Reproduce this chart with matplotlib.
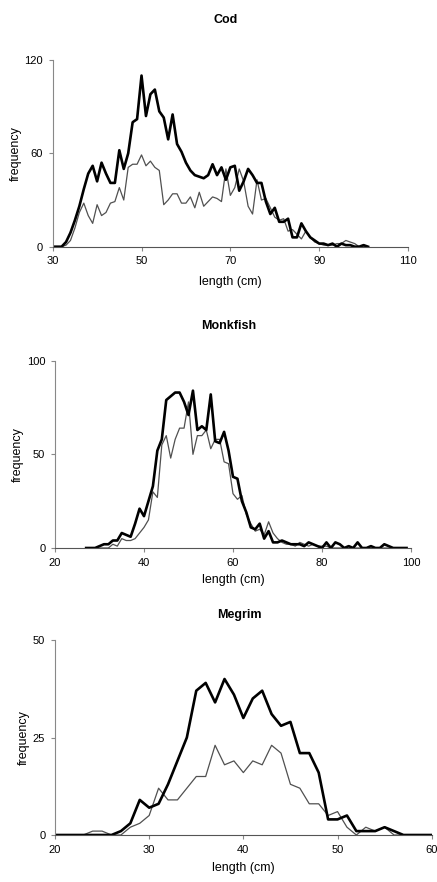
import matplotlib.pyplot as plt
import numpy as np

plt.rcParams['font.family'] = ['Liberation Sans', 'DejaVu Sans']

# Cod (1 cm classes, 30..101)
cod_len = np.arange(30, 102)
cod_thick = [0, 0, 0, 3, 9, 17, 26, 37, 47, 52, 42, 54, 47, 41, 41, 62, 50, 60, 80, 82,
             110, 84, 98, 101, 87, 83, 69, 85, 66, 61, 54, 49, 46, 45, 44, 46, 53, 46, 51, 43,
             51, 52, 36, 42, 50, 46, 41, 41, 29, 21, 25, 16, 16, 18, 6, 6, 15, 10, 6, 4,
             2, 2, 1, 2, 0, 2, 1, 1, 0, 0, 1, 0]
cod_thin = [0, 0, 0, 1, 4, 12, 22, 28, 20, 15, 27, 20, 22, 28, 29, 38, 30, 51, 53, 53,
            59, 52, 55, 51, 49, 27, 30, 34, 34, 28, 28, 32, 25, 35, 26, 29, 32, 31, 29, 50,
            33, 38, 50, 42, 26, 21, 43, 30, 31, 25, 19, 17, 18, 10, 11, 8, 5, 10, 6, 3,
            2, 1, 1, 1, 2, 2, 4, 3, 2, 0, 0, 0]

# Monkfish (27..99)
monk_len = np.arange(27, 100)
monk_thick = [0, 0, 0, 1, 2, 2, 4, 4, 8, 7, 6, 13, 21, 17, 25, 33, 52, 58, 79, 81,
              83, 83, 78, 71, 84, 63, 65, 63, 82, 57, 56, 62, 52, 38, 37, 25, 19, 11, 10, 13,
              5, 9, 3, 3, 4, 3, 2, 2, 2, 1, 3, 2, 1, 0, 3, 0, 3, 2, 0, 1,
              0, 3, 0, 0, 1, 0, 0, 2, 1, 0, 0, 0, 0]
monk_thin = [0, 0, 0, 0, 0, 0, 2, 1, 5, 4, 4, 5, 8, 11, 15, 30, 27, 55, 60, 48,
             58, 64, 64, 78, 50, 60, 60, 63, 53, 58, 58, 46, 45, 29, 26, 28, 18, 13, 9, 10,
             7, 14, 8, 5, 3, 2, 2, 1, 3, 2, 1, 2, 1, 1, 1, 0, 0, 0, 0, 0,
             0, 0, 0, 0, 0, 0, 0, 0, 0, 0, 0, 0, 0]

# Megrim (20..60)
meg_len = np.arange(20, 61)
meg_thick = [0, 0, 0, 0, 0, 0, 0, 1, 3, 9, 7, 8, 13, 19, 25, 37, 39, 34, 40, 36,
             30, 35, 37, 31, 28, 29, 21, 21, 16, 4, 4, 5, 1, 1, 1, 2, 1, 0, 0, 0, 0]
meg_thin = [0, 0, 0, 0, 1, 1, 0, 0, 2, 3, 5, 12, 9, 9, 12, 15, 15, 23, 18, 19,
            16, 19, 18, 23, 21, 13, 12, 8, 8, 5, 6, 2, 0, 2, 1, 2, 0, 0, 0, 0, 0]

W, H = 437, 882
fig = plt.figure(figsize=(W / 100, H / 100), dpi=100)


def px_axes(l, r, t, b):
    return fig.add_axes([l / W, 1 - b / H, (r - l) / W, (b - t) / H])


panels = [
    ("Cod", cod_len, cod_thick, cod_thin, (30, 110), [30, 50, 70, 90, 110], (0, 120), [0, 60, 120],
     (52.7, 408, 60, 246.7), 20, 282),
    ("Monkfish", monk_len, monk_thick, monk_thin, (20, 100), [20, 40, 60, 80, 100], (0, 100), [0, 50, 100],
     (55, 411, 360.7, 548), 326, 580),
    ("Megrim", meg_len, meg_thick, meg_thin, (20, 60), [20, 30, 40, 50, 60], (0, 50), [0, 25, 50],
     (55, 431.7, 640, 835), 615, 868),
]

for title, x, thick, thin, xlim, xt, ylim, yt, box, ty, ly in panels:
    ax = px_axes(*box)
    ax.plot(x, thin, color='#505050', lw=0.9)
    ax.plot(x, thick, color='black', lw=1.9)
    ax.set_xlim(*xlim)
    ax.set_ylim(*ylim)
    ax.set_xticks(xt)
    ax.set_yticks(yt)
    ax.spines['top'].set_visible(False)
    ax.spines['right'].set_visible(False)
    ax.spines['left'].set_color('#888888')
    ax.spines['bottom'].set_color('#555555')
    ax.tick_params(axis='both', labelsize=8, length=3, width=0.8, color='#888888', pad=4)
    ax.set_ylabel('frequency', fontsize=9, labelpad=2)
    cx = (box[0] + box[1]) / 2
    fig.text(cx / W - 0.01, 1 - ty / H, title, fontsize=9, fontweight='bold', ha='center', va='center')
    fig.text(cx / W, 1 - ly / H, 'length (cm)', fontsize=9, ha='center', va='center')

fig.savefig('out.png', dpi=100)
